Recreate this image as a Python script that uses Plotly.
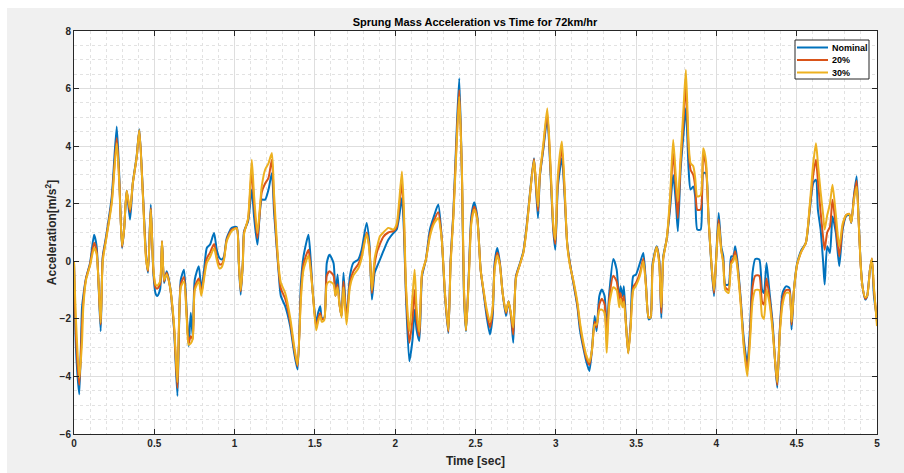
import plotly.graph_objects as go

time_s = [0.000, 0.012, 0.033, 0.050, 0.058, 0.075, 0.100, 0.125, 0.141, 0.166, 0.179, 0.200, 0.235, 0.266, 0.282, 0.299,
          0.312, 0.328, 0.349, 0.366, 0.390, 0.407, 0.428, 0.449, 0.461, 0.478, 0.494, 0.507, 0.519, 0.536, 0.548, 0.561,
          0.577, 0.598, 0.623, 0.644, 0.665, 0.685, 0.702, 0.714, 0.727, 0.739, 0.752, 0.777, 0.793, 0.810, 0.827, 0.847,
          0.872, 0.889, 0.905, 0.920, 0.934, 0.951, 0.982, 1.013, 1.026, 1.038, 1.051, 1.059, 1.084, 1.107, 1.121, 1.142,
          1.169, 1.190, 1.211, 1.232, 1.246, 1.273, 1.288, 1.315, 1.346, 1.371, 1.392, 1.413, 1.429, 1.460, 1.475, 1.487,
          1.508, 1.520, 1.533, 1.543, 1.558, 1.574, 1.591, 1.616, 1.628, 1.641, 1.653, 1.666, 1.678, 1.697, 1.718, 1.739,
          1.770, 1.791, 1.822, 1.839, 1.855, 1.872, 1.888, 1.905, 1.926, 1.957, 1.988, 2.009, 2.025, 2.042, 2.054, 2.067,
          2.088, 2.108, 2.121, 2.133, 2.150, 2.167, 2.191, 2.216, 2.241, 2.268, 2.289, 2.310, 2.331, 2.345, 2.362, 2.383,
          2.399, 2.416, 2.428, 2.441, 2.457, 2.474, 2.492, 2.511, 2.532, 2.553, 2.569, 2.590, 2.607, 2.619, 2.636, 2.652,
          2.669, 2.690, 2.706, 2.723, 2.735, 2.752, 2.777, 2.798, 2.818, 2.839, 2.864, 2.876, 2.889, 2.901, 2.922, 2.947,
          2.968, 2.984, 2.997, 3.013, 3.038, 3.055, 3.071, 3.088, 3.109, 3.134, 3.150, 3.171, 3.192, 3.209, 3.225, 3.242,
          3.254, 3.271, 3.287, 3.304, 3.317, 3.333, 3.358, 3.379, 3.395, 3.403, 3.416, 3.424, 3.437, 3.451, 3.466, 3.482,
          3.499, 3.524, 3.545, 3.561, 3.578, 3.590, 3.603, 3.628, 3.644, 3.657, 3.669, 3.690, 3.711, 3.731, 3.748, 3.760,
          3.777, 3.794, 3.810, 3.827, 3.839, 3.856, 3.868, 3.881, 3.902, 3.918, 3.935, 3.951, 3.968, 3.985, 3.997, 4.014,
          4.030, 4.043, 4.055, 4.076, 4.092, 4.105, 4.117, 4.130, 4.150, 4.171, 4.192, 4.209, 4.225, 4.242, 4.267, 4.284,
          4.296, 4.312, 4.329, 4.350, 4.366, 4.379, 4.395, 4.412, 4.433, 4.454, 4.468, 4.483, 4.503, 4.530, 4.557, 4.582,
          4.603, 4.620, 4.632, 4.649, 4.665, 4.674, 4.690, 4.707, 4.723, 4.744, 4.765, 4.786, 4.807, 4.827, 4.840, 4.856,
          4.873, 4.885, 4.898, 4.910, 4.927, 4.939, 4.956, 4.968, 4.981, 5.000]

nominal = [0.00, -3.0, -4.62, -1.6, -1.2, -0.58, -0.06, 0.92, 0.52, -2.43, 0.17, 0.87, 2.25, 4.68, 2.95, 0.46,
           1.1, 2.46, 1.45, 2.72, 3.64, 4.59, 2.49, 0.17, -0.4, 1.97, -0.4, -1.1, -1.21, -0.98, 0.69, -0.75,
           -0.35, -0.87, -2.37, -4.68, -0.64, -0.29, -1.79, -2.95, -1.79, -2.6, -0.64, -0.17, -0.98, -0.29, 0.46, 0.58,
           0.98, 0.4, 0.12, 0.06, 0.17, 0.81, 1.16, 1.19, -0.06, -1.16, -0.06, 1.04, 1.39, 2.49, 1.56, 0.58,
           2.14, 2.14, 2.49, 3.06, 1.68, -0.29, -1.21, -1.56, -2.25, -3.18, -3.76, -0.75, 0.17, 0.92, -0.06, -1.1,
           -2.14, -1.79, -1.56, -1.97, -1.97, -0.06, 0.23, -0.06, -1.2, -0.46, -1.45, -1.9, -0.4, -2.0, -0.52, -0.06,
           0.06, 0.4, 1.33, 0.64, -1.33, -0.4, -0.17, 0.06, 0.35, 0.75, 0.98, 1.1, 1.56, 2.2, 1.1, -1.21,
           -3.47, -2.72, -1.68, -2.37, -2.77, -0.52, 0.06, 1.1, 1.56, 1.97, 0.87, -1.21, -2.49, 0.06, 1.68, 4.57,
           6.36, 2.83, -1.21, -2.43, -0.64, 1.56, 2.05, 1.56, -0.29, -1.21, -1.9, -2.54, -1.9, -0.06, 0.46, -0.06,
           -1.1, -1.9, -1.39, -2.02, -2.83, -0.52, -0.06, 0.35, 1.21, 2.37, 3.58, 2.6, 1.5, 2.95, 3.87, 4.97,
           2.95, 1.1, 0.4, 2.6, 3.58, 2.25, 0.64, -0.06, -0.75, -1.56, -2.37, -3.0, -3.53, -3.81, -3.06, -1.9,
           -2.43, -1.21, -0.98, -1.21, -2.37, -1.1, 0.08, -0.29, -1.45, -0.87, -1.21, -0.87, -2.14, -3.18, -2.14, -0.52,
           -0.46, -0.06, 0.29, -0.75, -2.02, -1.97, -0.06, 0.52, 0.06, -1.97, 0.17, 0.75, 1.79, 3.0, 2.02, 1.04,
           3.18, 4.34, 5.32, 3.18, 2.49, 2.6, 2.25, 1.1, 1.1, 3.06, 3.06, 1.45, -0.06, -1.21, -0.06, 1.68,
           0.52, 0.17, -0.81, -0.81, 0.17, 0.17, 0.52, 0.06, -1.21, -2.72, -3.53, -2.37, -0.4, 0.08, 0.06, -0.98,
           -1.1, -0.06, -0.98, -2.14, -3.53, -4.39, -2.37, -1.1, -0.87, -0.92, -2.37, -0.98, -0.06, 0.4, 0.64, 1.79,
           2.72, 2.83, 1.79, 1.1, -0.06, -0.81, 0.52, 0.29, 1.56, 0.98, -0.17, 1.1, 1.56, 1.62, 1.33, 2.25,
           2.95, 1.56, -0.06, -0.87, -1.33, -1.21, -0.29, 0.06, -1.21, -2.0]

pct20 = [0.00, -2.6, -4.30, -2.2, -1.4, -0.6, -0.1, 0.64, 0.35, -2.2, 0.1, 0.8, 2.1, 4.28, 2.8, 0.5,
         1.1, 2.45, 1.7, 2.7, 3.6, 4.55, 2.45, 0.1, -0.35, 1.85, -0.3, -0.9, -0.95, -0.8, 0.7, -0.7,
         -0.4, -0.9, -2.3, -4.4, -0.8, -0.55, -1.9, -2.85, -2.6, -2.7, -0.9, -0.6, -1.1, -0.5, 0.1, 0.3,
         0.6, 0.15, -0.1, -0.1, 0.1, 0.75, 1.1, 1.15, 0.0, -1.05, -0.1, 1.0, 1.45, 3.18, 2.0, 0.8,
         2.4, 2.7, 2.9, 3.53, 2.0, -0.2, -0.95, -1.3, -2.1, -3.05, -3.65, -1.1, -0.1, 0.4, -0.3, -1.1,
         -2.3, -2.0, -1.8, -2.0, -2.0, -0.5, -0.35, -0.5, -1.2, -0.8, -1.5, -1.9, -0.7, -2.0, -0.75, -0.35,
         -0.1, 0.2, 1.0, 0.5, -1.1, -0.1, 0.35, 0.6, 0.85, 1.0, 1.05, 1.2, 1.9, 2.72, 1.5, -1.0,
         -2.83, -2.0, -1.0, -2.0, -2.6, -0.45, 0.05, 0.95, 1.4, 1.7, 0.85, -1.15, -2.45, 0.0, 1.6, 4.3,
         5.95, 2.9, -1.0, -2.4, -0.7, 1.4, 1.9, 1.5, -0.3, -1.15, -1.75, -2.3, -1.7, -0.2, 0.3, -0.1,
         -1.1, -1.8, -1.4, -1.95, -2.55, -0.55, -0.1, 0.3, 1.15, 2.3, 3.55, 2.7, 1.75, 3.0, 3.95, 5.15,
         3.1, 1.2, 0.6, 2.8, 3.9, 2.4, 0.6, -0.1, -0.7, -1.5, -2.2, -2.9, -3.4, -3.6, -3.1, -2.1,
         -2.3, -1.5, -1.3, -1.5, -2.8, -1.3, -0.5, -0.7, -1.3, -1.1, -1.5, -1.2, -2.2, -3.18, -2.2, -0.9,
         -0.75, -0.4, 0.1, -0.8, -1.95, -1.95, -0.15, 0.5, 0.0, -1.8, 0.1, 0.75, 2.0, 3.76, 2.5, 1.5,
         3.4, 4.8, 6.07, 3.87, 3.18, 3.0, 2.6, 1.79, 1.8, 3.76, 3.3, 1.5, 0.0, -1.1, -0.1, 1.45,
         0.4, 0.0, -0.9, -1.0, 0.0, 0.1, 0.35, -0.1, -1.3, -2.9, -3.8, -2.6, -0.9, -0.5, -0.5, -1.4,
         -1.5, -0.6, -1.2, -2.3, -3.5, -4.3, -2.4, -1.3, -1.0, -1.0, -2.2, -1.0, -0.1, 0.35, 0.64, 1.9,
         3.0, 3.53, 2.8, 1.7, 0.8, 0.4, 1.0, 1.2, 2.14, 1.2, 0.17, 1.2, 1.6, 1.65, 1.35, 2.2,
         2.8, 1.5, -0.1, -0.9, -1.3, -1.2, -0.3, 0.1, -1.0, -2.1]

pct30 = [0.00, -2.0, -4.05, -2.8, -1.6, -0.65, -0.15, 0.46, 0.25, -2.14, 0.0, 0.75, 2.0, 4.1, 2.7, 0.55,
         1.1, 2.45, 1.8, 2.7, 3.6, 4.55, 2.4, 0.05, -0.3, 1.8, -0.25, -0.8, -0.85, -0.7, 0.7, -0.65,
         -0.45, -0.9, -2.2, -4.2, -0.9, -0.7, -2.0, -2.9, -2.85, -2.7, -1.0, -0.7, -1.2, -0.6, -0.05, 0.15,
         0.45, 0.05, -0.25, -0.2, 0.05, 0.7, 1.05, 1.15, 0.0, -1.0, -0.1, 0.95, 1.5, 3.53, 2.3, 0.98,
         2.6, 3.18, 3.4, 3.76, 2.3, -0.1, -0.75, -1.1, -1.95, -2.95, -3.6, -1.3, -0.3, 0.2, -0.4, -1.1,
         -2.4, -2.1, -1.9, -2.1, -2.05, -0.8, -0.7, -0.8, -1.2, -0.9, -1.5, -1.95, -0.9, -2.2, -0.9, -0.5,
         -0.25, 0.1, 0.95, 0.4, -1.0, 0.1, 0.52, 0.87, 1.0, 1.16, 1.1, 1.3, 2.1, 3.12, 1.8, -0.8,
         -2.43, -1.2, -0.29, -1.6, -2.45, -0.4, 0.05, 0.85, 1.3, 1.5, 0.8, -1.1, -2.4, -0.1, 1.5, 4.1,
         5.72, 3.0, -0.9, -2.4, -0.8, 1.3, 1.8, 1.45, -0.3, -1.1, -1.65, -2.1, -1.6, -0.3, 0.2, -0.15,
         -1.1, -1.75, -1.4, -1.9, -2.3, -0.6, -0.1, 0.3, 1.1, 2.3, 3.5, 2.8, 1.9, 3.05, 4.05, 5.32,
         3.2, 1.3, 0.75, 3.0, 4.16, 2.55, 0.6, -0.15, -0.65, -1.4, -2.1, -2.8, -3.3, -3.5, -3.1, -2.2,
         -2.2, -1.7, -1.68, -1.8, -3.18, -1.5, -0.9, -1.0, -1.6, -1.3, -1.6, -1.4, -2.2, -3.2, -2.3, -1.0,
         -0.85, -0.5, 0.0, -0.85, -1.95, -1.95, -0.2, 0.5, -0.1, -1.6, 0.1, 0.75, 2.2, 4.22, 2.9, 2.08,
         3.6, 5.2, 6.65, 4.1, 3.41, 3.3, 2.9, 2.25, 2.3, 3.93, 3.5, 1.5, 0.0, -1.0, -0.1, 1.3,
         0.4, -0.1, -1.0, -1.1, -0.1, 0.0, 0.2, -0.2, -1.4, -3.0, -3.99, -2.8, -1.4, -1.0, -1.0, -1.9,
         -2.0, -1.0, -1.4, -2.4, -3.5, -4.2, -2.5, -1.5, -1.1, -1.1, -2.1, -1.0, -0.1, 0.35, 0.64, 2.0,
         3.4, 4.1, 3.4, 2.4, 1.6, 1.1, 1.6, 2.0, 2.66, 1.6, 0.52, 1.3, 1.6, 1.65, 1.35, 2.1,
         2.6, 1.5, -0.1, -0.9, -1.25, -1.2, -0.3, 0.1, -0.9, -2.25]

series_names = ["Nominal", "20%", "30%"]
series_colors = ["#0072BD", "#D95319", "#EDB120"]
x_ticks = [0, 0.5, 1, 1.5, 2, 2.5, 3, 3.5, 4, 4.5, 5]
x_tick_labels = ["0", "0.5", "1", "1.5", "2", "2.5", "3", "3.5", "4", "4.5", "5"]
y_ticks = [-6, -4, -2, 0, 2, 4, 6, 8]

W, H = 904, 473
PL, PR, PT, PB = 74, 877, 31, 434  # plot area in pixels


def px_x(p):
    return (p - PL) / (PR - PL)


def px_y(p):
    return (PB - p) / (PB - PT)


fig = go.Figure()
for name, vals, col in zip(series_names, [nominal, pct20, pct30], series_colors):
    fig.add_trace(go.Scatter(x=time_s, y=vals, mode="lines", name=name, showlegend=False,
                             line=dict(color=col, width=2, shape="spline", smoothing=0.6)))

# white window border strips (top and left) outside the plot area
fig.add_shape(type="rect", xref="paper", yref="paper", x0=px_x(0), x1=px_x(W), y0=px_y(8), y1=px_y(0),
              fillcolor="white", line=dict(width=0), layer="below")
fig.add_shape(type="rect", xref="paper", yref="paper", x0=px_x(0), x1=px_x(7), y0=px_y(H), y1=px_y(0),
              fillcolor="white", line=dict(width=0), layer="below")

# custom legend (MATLAB-style compact box)
LX0, LX1, LY0, LY1 = 795, 869, 40, 79
fig.add_shape(type="rect", xref="paper", yref="paper", x0=px_x(LX0), x1=px_x(LX1), y0=px_y(LY1), y1=px_y(LY0),
              fillcolor="white", line=dict(color="#262626", width=1), layer="above")
row_y = [47.5, 60, 72.5]
for name, col, ry in zip(series_names, series_colors, row_y):
    fig.add_shape(type="line", xref="paper", yref="paper", x0=px_x(797), x1=px_x(828), y0=px_y(ry), y1=px_y(ry),
                  line=dict(color=col, width=2), layer="above")
    fig.add_annotation(xref="paper", yref="paper", x=px_x(830), y=px_y(ry), xanchor="left", yanchor="middle",
                       text="<b>" + name + "</b>", showarrow=False,
                       font=dict(family="Liberation Sans", size=9, color="#000000"))

axis_common = dict(
    showline=True, linecolor="#262626", linewidth=1, mirror="allticks",
    ticks="inside", ticklen=5, tickcolor="#262626",
    showgrid=True, gridcolor="#dedede", gridwidth=1,
    zeroline=False, automargin=False,
    tickfont=dict(family="Liberation Sans", size=10, color="#262626", weight="bold"),
)

fig.update_xaxes(range=[0, 5], tickvals=x_ticks, ticktext=x_tick_labels,
                 minor=dict(dtick=0.1, showgrid=True, gridcolor="#e2e2e2", griddash="dot", ticks=""),
                 title=dict(text="<b>Time [sec]</b>", font=dict(family="Liberation Sans", size=12, color="#262626"), standoff=8),
                 **axis_common)
fig.update_yaxes(range=[-6, 8], tickvals=y_ticks,
                 minor=dict(dtick=0.5, showgrid=True, gridcolor="#e2e2e2", griddash="dot", ticks=""),
                 title=dict(text="<b>Acceleration[m/s<sup>2</sup>]</b>", font=dict(family="Liberation Sans", size=12, color="#262626"), standoff=0),
                 **axis_common)

fig.update_layout(
    width=W, height=H,
    margin=dict(l=PL, r=W - PR, t=PT, b=H - PB),
    paper_bgcolor="#f0f0f0", plot_bgcolor="white",
    title=dict(text="<b>Sprung Mass Acceleration vs Time for 72km/hr</b>", x=(475 / W), xanchor="center",
               y=1 - 22 / H, yanchor="middle",
               font=dict(family="Liberation Sans", size=11, color="#000000")),
    showlegend=False,
)

fig.write_html("out.html")
